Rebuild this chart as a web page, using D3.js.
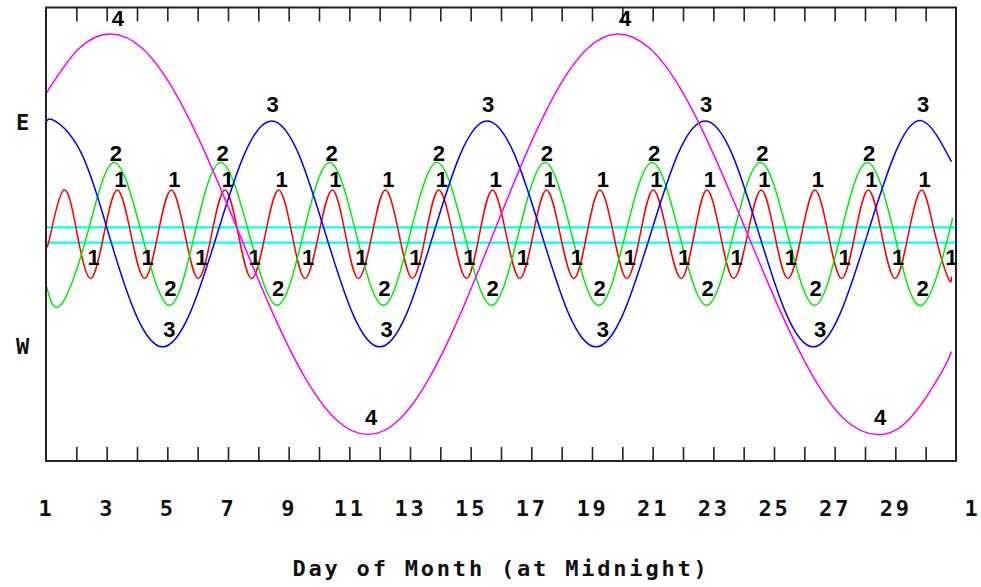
<!DOCTYPE html>
<html><head><meta charset="utf-8">
<script src="https://cdn.jsdelivr.net/npm/d3@7"></script>
<style>body{margin:0;background:#fff}</style>
</head><body>
<svg id="chart" width="981" height="587"></svg>
<script>
// ---- data (day index from the 1st at midnight, offset in Jupiter radii, east positive) ----
const dayTickValues = [0,2,4,6,8,10,12,14,16,18,20,22,24,26,28,30];
const dayTickLabels = ["1","3","5","7","9","11","13","15","17","19","21","23","25","27","29","1"];
const minorTickDays = [1,2,3,4,5,6,7,8,9,10,11,12,13,14,15,16,17,18,19,20,21,22,23,24,25,26,27,28,29];
const sideLabels = ["E","W"];
const sideValues = [14.8,-14.8];
const jupiterEdges = [0.92,-1.12];
const xTitle = "Day of Month (at Midnight)";
const moonNames = ["1","2","3","4"];

const io = [[0,-1.8],[0.15,0],[0.59,5.85],[1.03,0],[1.47,-5.85],[1.91,0],[2.35,5.85],[2.80,0],[3.25,-5.85],[3.69,0],[4.13,5.85],[4.58,0],[5.02,-5.85],[5.46,0],[5.90,5.85],[6.34,0],[6.78,-5.85],[7.23,0],[7.67,5.85],[8.11,0],[8.54,-5.85],[8.99,0],[9.44,5.85],[9.87,0],[10.30,-5.85],[10.75,0],[11.19,5.85],[11.64,0],[12.08,-5.85],[12.52,0],[12.95,5.85],[13.41,0],[13.86,-5.85],[14.29,0],[14.72,5.85],[15.17,0],[15.62,-5.85],[16.06,0],[16.50,5.85],[16.95,0],[17.40,-5.85],[17.83,0],[18.26,5.85],[18.71,0],[19.15,-5.85],[19.59,0],[20.02,5.85],[20.48,0],[20.94,-5.85],[21.37,0],[21.79,5.85],[22.23,0],[22.67,-5.85],[23.13,0],[23.58,5.85],[24.02,0],[24.46,-5.85],[24.91,0],[25.35,5.85],[25.79,0],[26.23,-5.85],[26.67,0],[27.11,5.85],[27.55,0],[27.99,-5.85],[28.43,0],[28.87,5.85],[29.31,0],[29.75,-5.85],[29.85,-5.6]];

const europa = [[0,-6.7],[0.48,-9.4],[1.36,0],[2.24,9.5],[3.16,0],[4.07,-9.4],[4.90,0],[5.76,9.5],[6.70,0],[7.62,-9.4],[8.48,0],[9.35,9.5],[10.23,0],[11.12,-9.4],[12.00,0],[12.89,9.5],[13.79,0],[14.69,-9.4],[15.57,0],[16.45,9.5],[17.33,0],[18.22,-9.4],[19.10,0],[19.98,9.5],[20.88,0],[21.78,-9.4],[22.66,0],[23.55,9.5],[24.45,0],[25.34,-9.4],[26.20,0],[27.07,9.5],[27.97,0],[28.87,-9.4],[29.76,0],[29.85,1.6]];

const ganymede = [[0,14.85],[0.29,15.0],[1.18,10.6],[2.07,0],[2.95,-10.5],[3.84,-14.9],[4.74,-10.5],[5.64,0],[6.54,10.6],[7.44,15.0],[8.33,10.6],[9.22,0],[10.11,-10.5],[11.00,-14.9],[11.89,-10.5],[12.77,0],[13.66,10.6],[14.54,15.0],[15.44,10.6],[16.34,0],[17.23,-10.5],[18.13,-14.9],[19.03,-10.5],[19.93,0],[20.83,10.6],[21.73,15.0],[22.62,10.6],[23.51,0],[24.40,-10.5],[25.29,-14.9],[26.18,-10.5],[27.08,0],[27.98,10.6],[28.88,15.0],[29.85,9.6]];

const callisto = [[0,18.6],[1.07,24.5],[2.14,26.5],[3.20,24.5],[4.26,18.7],[5.32,10.1],[6.38,0],[7.44,-10.1],[8.50,-18.7],[9.56,-24.5],[10.62,-26.5],[11.65,-24.5],[12.68,-18.7],[13.71,-10.1],[14.74,0],[15.77,10.1],[16.80,18.7],[17.83,24.5],[18.86,26.5],[19.93,24.5],[21.00,18.7],[22.06,10.1],[23.13,0],[24.20,-10.1],[25.27,-18.7],[26.33,-24.5],[27.40,-26.5],[28.47,-24.4],[29.53,-18.2],[29.85,-15.5]];

// ---- styling ----
const moonSeries = [io, europa, ganymede, callisto];
const moonColors = ["#ff0000","#00ee00","#0000ff","#ff00ff"];
// label offsets [peak dx, peak dy, trough dx, trough dy]
const labelOffsets = [[3,-11,3,-21],[2,-9,1,-17],[1,-17,7,-18],[7,-16,3,-17]];

const svg = d3.select("#chart");
svg.append("rect").attr("width",981).attr("height",587).attr("fill","#fff");

const x = d3.scaleLinear().domain([0,30]).range([46,956]);
const y = d3.scaleLinear().domain([-30,30]).range([461,7.5]);

const monoFont = "'DejaVu Sans Mono', monospace";
const numFont = "'Liberation Sans', Arial, sans-serif";

// Jupiter edge lines
svg.append("g").selectAll("line").data(jupiterEdges).join("line")
  .attr("x1",x(0)).attr("x2",x(30))
  .attr("y1",d=>y(d)).attr("y2",d=>y(d))
  .attr("stroke","#00ffff").attr("stroke-width",2.2);

// curves
const line = d3.line().x(d=>x(d[0])).y(d=>y(d[1])).curve(d3.curveNatural);
svg.append("g").selectAll("path").data(moonSeries).join("path")
  .attr("d",line).attr("fill","none")
  .attr("stroke",(d,i)=>moonColors[i]).attr("stroke-width",1.5);

// frame
svg.append("rect").attr("x",x(0)).attr("y",y(30))
  .attr("width",x(30)-x(0)).attr("height",y(-30)-y(30))
  .attr("fill","none").attr("stroke","#222").attr("stroke-width",2);

// inward ticks top & bottom
const topAxis = d3.axisTop(x).tickValues(minorTickDays).tickSize(-14).tickFormat("");
const botAxis = d3.axisBottom(x).tickValues(minorTickDays).tickSize(-14).tickFormat("");
svg.append("g").attr("transform",`translate(0,${y(30)})`).call(topAxis)
  .call(g=>g.select(".domain").remove())
  .selectAll("line").attr("stroke","#222").attr("stroke-width",1.6);
svg.append("g").attr("transform",`translate(0,${y(-30)})`).call(botAxis)
  .call(g=>g.select(".domain").remove())
  .selectAll("line").attr("stroke","#222").attr("stroke-width",1.6);

// tick labels
const labAxis = d3.axisBottom(x).tickValues(dayTickValues).tickSize(0)
  .tickFormat((d,i)=>dayTickLabels[i]);
const lg = svg.append("g").attr("transform",`translate(0,${y(-30)})`).call(labAxis);
lg.select(".domain").remove();
lg.selectAll("text").attr("y",47).attr("dy","0.35em")
  .attr("font-family",monoFont).attr("font-weight","bold").attr("font-size",22)
  .attr("fill","#111").style("letter-spacing","2.8px");
lg.selectAll(".tick").filter((d,i)=>i===dayTickValues.length-1)
  .select("text").attr("x",16);

// E / W
svg.append("g").selectAll("text").data(sideLabels).join("text")
  .attr("x",22.5).attr("y",(d,i)=>y(sideValues[i])).attr("dy","0.35em")
  .attr("text-anchor","middle").attr("font-family",monoFont)
  .attr("font-weight","bold").attr("font-size",22).attr("fill","#111")
  .text(d=>d);

// x title
svg.append("text").attr("x",501).attr("y",568).attr("dy","0.35em")
  .attr("text-anchor","middle").attr("font-family",monoFont)
  .attr("font-weight","bold").attr("font-size",22).attr("fill","#111")
  .style("letter-spacing","2.8px").text(xTitle);

// extremum labels
const labels = [];
moonSeries.forEach((s,mi)=>{
  for (let i=1;i<s.length-1;i++){
    const [d,v]=s[i];
    if (d<0.65) continue;
    const isMax = v>s[i-1][1] && v>=s[i+1][1];
    const isMin = v<s[i-1][1] && v<=s[i+1][1];
    if (!isMax && !isMin) continue;
    const o = labelOffsets[mi];
    labels.push({t:moonNames[mi], x:x(d)+(isMax?o[0]:o[2]), y:y(v)+(isMax?o[1]:o[3])});
  }
});
svg.append("g").selectAll("text").data(labels).join("text")
  .attr("x",d=>d.x).attr("y",d=>d.y).attr("dy","0.35em")
  .attr("text-anchor","middle").attr("font-family",numFont)
  .attr("font-weight","bold").attr("font-size",22).attr("fill","#000")
  .text(d=>d.t);
</script>
</body></html>
